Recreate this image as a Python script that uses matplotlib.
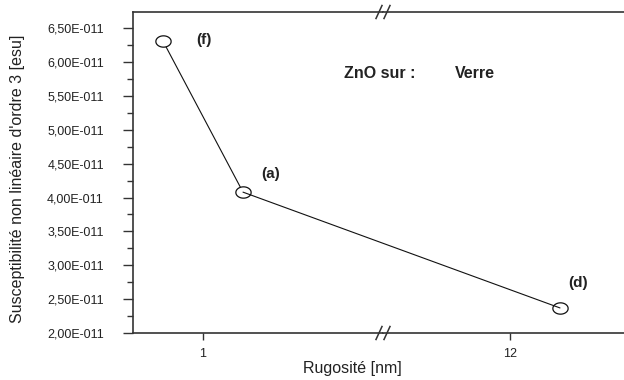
import matplotlib
matplotlib.use("Agg")
from matplotlib import pyplot as plt
from matplotlib.patches import ConnectionPatch
from matplotlib.lines import Line2D
import numpy as np

plt.rcParams['font.family'] = ['Liberation Sans', 'DejaVu Sans']

# données
rugosite = [0.6, 1.4, 12.5]              # nm
chi3 = [6.31e-11, 4.08e-11, 2.37e-11]    # esu
echantillons = ["(f)", "(a)", "(d)"]

yticks = [2.0e-11, 2.5e-11, 3.0e-11, 3.5e-11, 4.0e-11, 4.5e-11, 5.0e-11, 5.5e-11, 6.0e-11, 6.5e-11]
ytick_labels = ["2,00E-011", "2,50E-011", "3,00E-011", "3,50E-011", "4,00E-011",
                "4,50E-011", "5,00E-011", "5,50E-011", "6,00E-011", "6,50E-011"]
xticks_gauche = [1]
xticks_droite = [12]

gris = "#333333"
fig = plt.figure(figsize=(6.24, 3.80), dpi=100)
bas, haut = 1 - 333 / 380, 1 - 12 / 380
g, c = 133 / 624, 383 / 624
ax1 = fig.add_axes([g, bas, c - g, haut - bas])
ax2 = fig.add_axes([c, bas, 1 - c, haut - bas], sharey=ax1)

ax1.set_xlim(0.3, 2.8)
ax2.set_xlim(10.73, 13.14)
ax1.set_ylim(2.0e-11, 6.74e-11)

# ellipse ouverte comme marqueur
t = np.linspace(0, 2 * np.pi, 60)
ellipse = np.column_stack([1.35 * np.cos(t), np.sin(t)])
mk = dict(marker=ellipse, markersize=11, markerfacecolor="white",
          markeredgecolor="#111111", markeredgewidth=0.9)

n = sum(1 for x in rugosite if x < 5)
ax1.plot(rugosite[:n], chi3[:n], color="#111111", lw=0.8, zorder=3)
lien = ConnectionPatch(xyA=(rugosite[n - 1], chi3[n - 1]), coordsA=ax1.transData,
                       xyB=(rugosite[n], chi3[n]), coordsB=ax2.transData,
                       color="#111111", lw=0.8, zorder=2)
fig.add_artist(lien)
ax1.plot(rugosite[:n], chi3[:n], linestyle="none", zorder=5, clip_on=False, **mk)
ax2.plot(rugosite[n:], chi3[n:], linestyle="none", zorder=5, clip_on=False, **mk)

ax1.text(0.93, 6.32e-11, echantillons[0], fontsize=11, fontweight="bold", va="center", color="#222222")
ax1.text(1.58, 4.35e-11, echantillons[1], fontsize=11, fontweight="bold", va="center", color="#222222")
ax2.text(12.58, 2.74e-11, echantillons[2], fontsize=11, fontweight="bold", va="center", color="#222222")

fig.text(380 / 624, 1 - 73 / 380, "ZnO sur :", ha="center", va="center",
         fontsize=11.5, fontweight="bold", color="#222222")
fig.text(455 / 624, 1 - 73 / 380, "Verre", ha="left", va="center",
         fontsize=11.5, fontweight="bold", color="#222222")

for ax in (ax1, ax2):
    for s in ("top", "bottom"):
        ax.spines[s].set_color(gris)
        ax.spines[s].set_linewidth(1.2)
    ax.spines["right"].set_visible(False)
    ax.tick_params(axis="x", direction="out", length=5, width=1, colors=gris,
                   labelsize=9, labelcolor="#222222", pad=6)
ax2.spines["left"].set_visible(False)
ax1.spines["left"].set_color(gris)
ax1.spines["left"].set_linewidth(1.2)
ax2.tick_params(axis="y", which="both", left=False, labelleft=False)

ax1.set_xticks(xticks_gauche)
ax1.set_xticklabels([str(v) for v in xticks_gauche])
ax2.set_xticks(xticks_droite)
ax2.set_xticklabels([str(v) for v in xticks_droite])

ax1.set_yticks(yticks)
ax1.set_yticklabels(ytick_labels)
ax1.set_yticks(np.array(yticks[:-1]) + 0.25e-11, minor=True)
ax1.tick_params(axis="y", which="major", direction="out", length=7, width=1,
                colors=gris, labelsize=9, labelcolor="#222222", pad=14)
ax1.tick_params(axis="y", which="minor", direction="out", length=4, width=1, colors=gris)

# marques de coupure //
for yb in (0, 1):
    for dx in (-4, 4):
        x0 = c + (dx - 3) / 624
        x1 = c + (dx + 3) / 624
        fig.add_artist(Line2D([x0, x1], [bas + (haut - bas) * yb - 6.5 / 380,
                                         bas + (haut - bas) * yb + 6.5 / 380],
                              transform=fig.transFigure, color=gris, lw=1.1))

fig.text(18 / 624, 1 - 179 / 380, "Susceptibilité non linéaire d'ordre 3 [esu]",
         rotation=90, ha="center", va="center", fontsize=11.5, color="#222222")
fig.text(352 / 624, 1 - 368 / 380, "Rugosité [nm]", ha="center", va="center",
         fontsize=11.5, color="#222222")

fig.savefig("out.png", dpi=100)
